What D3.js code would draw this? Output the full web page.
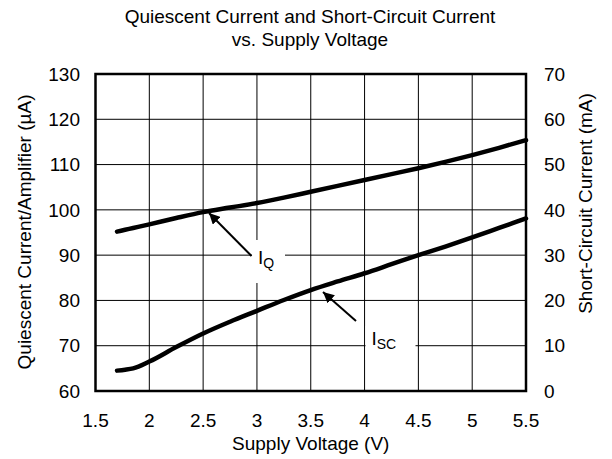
<!DOCTYPE html>
<html><head><meta charset="utf-8">
<script src="https://cdn.jsdelivr.net/npm/d3@7/dist/d3.min.js"></script>
<style>body{margin:0;background:#fff}svg{display:block}text{font-family:"Liberation Sans",Arial,sans-serif;fill:#000}</style>
</head><body>
<svg id="c" width="612" height="459"></svg>
<script>
const voltage = [1.7,1.775,1.85,2,2.25,2.5,2.75,3,3.25,3.5,3.75,4,4.25,4.5,4.75,5,5.25,5.5];
const iq  = [95.2,95.6,96.0,96.8,98.2,99.5,100.5,101.5,102.7,104.0,105.3,106.6,107.9,109.2,110.6,112.1,113.7,115.4];
const isc = [4.5,4.7,5.0,6.5,9.7,12.7,15.3,17.7,20.1,22.3,24.2,26.0,28.0,30.0,31.9,33.9,36.0,38.1];
const xTicks = [1.5,2,2.5,3,3.5,4,4.5,5,5.5];
const xTickLabels = ["1.5","2","2.5","3","3.5","4","4.5","5","5.5"];
const leftTicks = [60,70,80,90,100,110,120,130];
const rightTicks = [0,10,20,30,40,50,60,70];
const title = ["Quiescent Current and Short-Circuit Current","vs. Supply Voltage"];

const svg = d3.select("#c");
const L=95.5,R=526,T=74,B=391;
const x = d3.scaleLinear().domain([1.5,5.5]).range([L,R]);
const yL = d3.scaleLinear().domain([60,130]).range([B,T]);
const yR = d3.scaleLinear().domain([0,70]).range([B,T]);
const fs = 19;

// grid
svg.append("g").selectAll("line").data(xTicks).join("line")
  .attr("x1",d=>x(d)).attr("x2",d=>x(d)).attr("y1",T).attr("y2",B)
  .attr("stroke","#000").attr("stroke-width",1);
svg.append("g").selectAll("line").data(leftTicks).join("line")
  .attr("y1",d=>yL(d)).attr("y2",d=>yL(d)).attr("x1",L).attr("x2",R)
  .attr("stroke","#000").attr("stroke-width",1);

// label boxes (white)
svg.append("rect").attr("x",252).attr("y",240).attr("width",33).attr("height",43).attr("fill","#fff");
svg.append("rect").attr("x",365.5).attr("y",326).attr("width",50).attr("height",34).attr("fill","#fff");

// curves
const lineL = d3.line().x((d,i)=>x(voltage[i])).y(d=>yL(d)).curve(d3.curveMonotoneX);
const lineR = d3.line().x((d,i)=>x(voltage[i])).y(d=>yR(d)).curve(d3.curveMonotoneX);
svg.append("path").attr("d",lineL(iq)).attr("fill","none").attr("stroke","#000").attr("stroke-width",4.5).attr("stroke-linecap","round");
svg.append("path").attr("d",lineR(isc)).attr("fill","none").attr("stroke","#000").attr("stroke-width",4.5).attr("stroke-linecap","round");

// frame
svg.append("rect").attr("x",L).attr("y",T).attr("width",R-L).attr("height",B-T)
  .attr("fill","none").attr("stroke","#000").attr("stroke-width",2.5);

// axes tick labels
svg.append("g").selectAll("text").data(xTicks).join("text")
  .attr("x",d=>x(d)).attr("y",427).attr("text-anchor","middle").attr("font-size",fs)
  .text((d,i)=>xTickLabels[i]);
svg.append("g").selectAll("text").data(leftTicks).join("text")
  .attr("x",80).attr("y",d=>yL(d)).attr("dy","0.35em").attr("text-anchor","end").attr("font-size",fs)
  .text(d=>d);
svg.append("g").selectAll("text").data(rightTicks).join("text")
  .attr("x",544).attr("y",d=>yR(d)).attr("dy","0.35em").attr("text-anchor","start").attr("font-size",fs)
  .text(d=>d);

// titles
svg.append("g").selectAll("text").data(title).join("text")
  .attr("x",310).attr("y",(d,i)=>23+i*23).attr("text-anchor","middle").attr("font-size",fs).text(d=>d);
svg.append("text").attr("x",(L+R)/2).attr("y",450).attr("text-anchor","middle").attr("font-size",fs).text("Supply Voltage (V)");
svg.append("text").attr("transform","translate(31,232) rotate(-90)").attr("text-anchor","middle").attr("font-size",fs).text("Quiescent Current/Amplifier (µA)");
svg.append("text").attr("transform","translate(592,203.5) rotate(-90)").attr("text-anchor","middle").attr("font-size",fs).text("Short-Circuit Current (mA)");

// annotations
const defs = svg.append("defs");
defs.append("marker").attr("id","ah").attr("viewBox","0 0 10 10").attr("refX",10).attr("refY",5)
  .attr("markerWidth",11).attr("markerHeight",11).attr("markerUnits","userSpaceOnUse").attr("orient","auto")
  .append("path").attr("d","M0,0L10,5L0,10z").attr("fill","#000");
svg.append("line").attr("x1",251.5).attr("y1",256).attr("x2",209).attr("y2",213)
  .attr("stroke","#000").attr("stroke-width",2).attr("marker-end","url(#ah)");
svg.append("line").attr("x1",356).attr("y1",321).attr("x2",323).attr("y2",292)
  .attr("stroke","#000").attr("stroke-width",2).attr("marker-end","url(#ah)");

const t1 = svg.append("text").attr("x",258).attr("y",264).attr("font-size",fs);
t1.append("tspan").text("I");
t1.append("tspan").attr("font-size",14).attr("dy",4).text("Q");
const t2 = svg.append("text").attr("x",371.5).attr("y",345).attr("font-size",fs);
t2.append("tspan").text("I");
t2.append("tspan").attr("font-size",14).attr("dy",4).text("SC");
</script>
</body></html>
